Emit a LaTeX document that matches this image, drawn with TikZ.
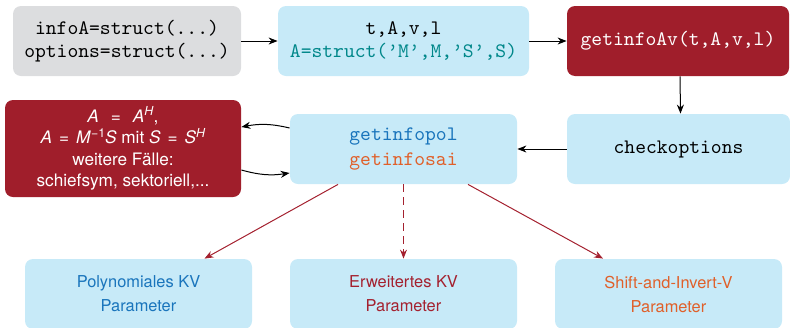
\documentclass[tikz,border=0pt]{standalone}
\usepackage{fontspec}
\newfontfamily\heros{TeX Gyre Heros}
\usetikzlibrary{arrows.meta,calc}

\definecolor{boxgray}{HTML}{DCDDDF}
\definecolor{boxblue}{HTML}{C7EAF8}
\definecolor{darkred}{HTML}{A01E2B}
\definecolor{txtteal}{HTML}{00878A}
\definecolor{txtblue}{HTML}{1A75BC}
\definecolor{txtorange}{HTML}{E0602A}
\definecolor{txtred}{HTML}{A4212F}

% sans italic letters and relation signs for the formulas
\newcommand\vm[1]{\textit{#1}}
\newcommand\rel[1]{\hspace{#1}=\hspace{#1}}
\newcommand\sups[1]{\raisebox{3.4pt}{\fontsize{6.2}{6.2}\selectfont #1}}

\begin{document}
\begin{tikzpicture}[x=0.5pt,y=-0.5pt,
  box/.style={rounded corners=4pt, minimum height=35pt, inner sep=0pt, align=center},
  ttbox/.style={box, font=\ttfamily\fontsize{10.3}{11.5}\selectfont},
  sfbox/.style={box, font=\heros\fontsize{8.2}{12}\selectfont},
  flow/.style={line width=0.5pt, -{Stealth[length=4.5pt,width=3.5pt]}},
  redflow/.style={line width=0.5pt, draw=txtred, -{Stealth[length=4.5pt,width=3.5pt]}}]
\useasboundingbox (0,0) rectangle (790,327);

% top row
\node[ttbox, fill=boxgray, minimum width=114pt] (inp) at (127,41)
  {infoA=struct(...)\\options=struct(...)};
\node[ttbox, fill=boxblue, minimum width=125.5pt] (args) at (403.5,41)
  {t,A,v,l\\\textcolor{txtteal}{A=struct(’M’,M,’S’,S)}};
\node[ttbox, fill=darkred, text=white, minimum width=111pt] (gav) at (678,41)
  {getinfoAv(t,A,v,l)};

% middle row
\node[box, fill=darkred, text=white, minimum width=118pt, minimum height=48.5pt,
      font=\heros\fontsize{8.6}{10.6}\selectfont] (cases) at (123,148.5)
  {\vm{A}\rel{6pt}\vm{A}\sups{\vm{H}},\\
   \vm{A}\rel{3.5pt}\vm{M}\sups{−1}\vm{S} mit \vm{S}\rel{3.5pt}\vm{S}\sups{\vm{H}}\\
   weitere Fälle:\\
   schiefsym, sektoriell,...};
\node[box, fill=boxblue, minimum width=113.5pt, font=\ttfamily\fontsize{10.3}{12.5}\selectfont] (gi) at (403.5,149)
  {\textcolor{txtblue}{getinfopol}\\\textcolor{txtorange}{getinfosai}};
\node[ttbox, fill=boxblue, minimum width=111.5pt] (chk) at (678.5,149)
  {checkoptions};

% bottom row
\node[sfbox, fill=boxblue, minimum width=113.5pt, text=txtblue] (pol) at (138.5,294)
  {Polynomiales KV\\Parameter};
\node[sfbox, fill=boxblue, minimum width=113.5pt, text=txtred] (erw) at (403.5,294)
  {Erweitertes KV\\Parameter};
\node[sfbox, fill=boxblue, minimum width=113.5pt, text=txtorange] (sai) at (668.5,294)
  {Shift-and-Invert-V\\Parameter};

% connectors
\draw[flow] (inp) -- (args);
\draw[flow] (args) -- (gav);
\draw[flow] ([xshift=1pt]gav.south) -- ([xshift=1pt]chk.north);
\draw[flow] (chk) -- (gi);
\draw[flow] ([yshift=10.5pt]gi.west) to[bend right=12] ([yshift=10.75pt]cases.east);
\draw[flow] ([yshift=-10.75pt]cases.east) to[bend right=12] ([yshift=-12pt]gi.west);

\draw[redflow] ([xshift=-32.75pt]gi.south) -- ([xshift=33pt]pol.north);
\draw[redflow, dash pattern=on 4pt off 2.5pt] (gi.south) -- (erw.north);
\draw[redflow] ([xshift=32.25pt]gi.south) -- ([xshift=-32.75pt]sai.north);
\end{tikzpicture}
\end{document}
